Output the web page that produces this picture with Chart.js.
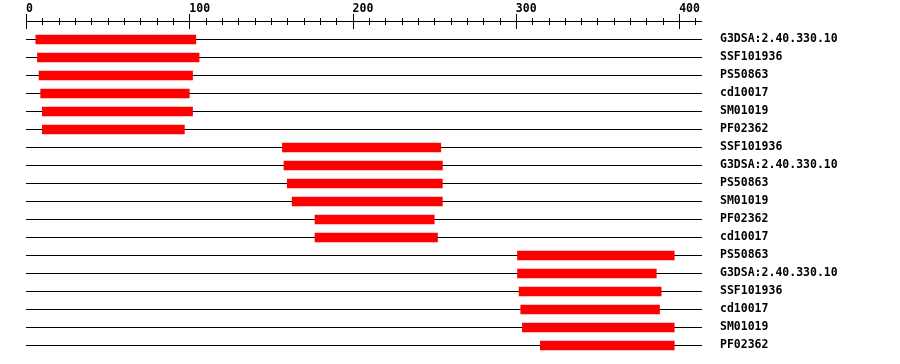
<!DOCTYPE html>
<html>
<head>
<meta charset="utf-8">
<script src="https://cdn.jsdelivr.net/npm/chart.js@4"></script>
<style>
    html, body { margin: 0; padding: 0; background: #fff; }
    #wrap { width: 900px; height: 364px; }
</style>
</head>
<body>
<div id="wrap"><canvas id="domain-chart" width="900" height="364"></canvas></div>
<script>
const labels = ['G3DSA:2.40.330.10', 'SSF101936', 'PS50863', 'cd10017', 'SM01019', 'PF02362',
    'SSF101936', 'G3DSA:2.40.330.10', 'PS50863', 'SM01019', 'PF02362', 'cd10017',
    'PS50863', 'G3DSA:2.40.330.10', 'SSF101936', 'cd10017', 'SM01019', 'PF02362'];
const starts = [6, 7, 8, 9, 10, 10, 157, 158, 160, 163, 177, 177, 301, 301, 302, 303, 304, 315];
const ends = [104, 106, 102, 100, 102, 97, 254, 255, 255, 255, 250, 252, 397, 386, 389, 388, 397, 397];
const axisMax = 414;
const majorStep = 100;
const minorStep = 10;

const monoFont = { family: '"DejaVu Sans Mono", monospace', size: 11.5, weight: 'bold' };

// ruler at the top: line with long ticks every 100 and short ones every 10
const rulerPlugin = {
    id: 'ruler',
    afterDraw(chart) {
        const x = chart.scales.x;
        const c = chart.ctx;
        const y0 = 21.5;
        c.save();
        c.strokeStyle = '#000';
        c.lineWidth = 1;
        c.beginPath();
        c.moveTo(x.getPixelForValue(0), y0);
        c.lineTo(x.getPixelForValue(axisMax), y0);
        x.ticks.forEach(t => {
            const px = Math.round(x.getPixelForValue(t.value)) + 0.5;
            if (t.value % majorStep === 0) {
                c.moveTo(px, 14);
                c.lineTo(px, 29);
            } else {
                c.moveTo(px, 18);
                c.lineTo(px, 25);
            }
        });
        c.stroke();
        c.restore();
    }
};

const ctx = document.getElementById('domain-chart').getContext('2d');
const domainChart = new Chart(ctx, {
    type: 'bar',
    data: {
        labels: labels,
        datasets: [{
            data: starts.map((s, i) => [s, ends[i]]),
            backgroundColor: '#FF0000',
            borderWidth: 0,
            borderSkipped: false,
            barThickness: 9
        }]
    },
    plugins: [rulerPlugin],
    options: {
        indexAxis: 'y',
        responsive: false,
        animation: false,
        layout: {
            padding: { left: 26, top: 0.5, right: 0, bottom: 9.5 }
        },
        plugins: {
            legend: { display: false },
            tooltip: { enabled: false }
        },
        scales: {
            x: {
                position: 'top',
                type: 'linear',
                min: 0,
                max: axisMax,
                grid: { display: false, drawTicks: false },
                border: { display: false },
                ticks: {
                    stepSize: minorStep,
                    includeBounds: false,
                    autoSkip: false,
                    maxRotation: 0,
                    align: 'start',
                    padding: 15,
                    color: '#000',
                    font: monoFont,
                    callback: function(value) {
                        return value % majorStep === 0 ? String(value) : '';
                    }
                },
                afterFit: function(scale) {
                    scale.height = 30;
                }
            },
            y: {
                position: 'right',
                grid: {
                    offset: false,
                    color: '#000',
                    lineWidth: 1,
                    drawTicks: false
                },
                border: { display: false },
                ticks: {
                    padding: 18,
                    color: '#000',
                    font: monoFont
                },
                afterFit: function(scale) {
                    scale.width = 198;
                    scale.paddingTop = 0;
                    scale.paddingBottom = 0;
                }
            }
        }
    }
});
</script>
</body>
</html>
